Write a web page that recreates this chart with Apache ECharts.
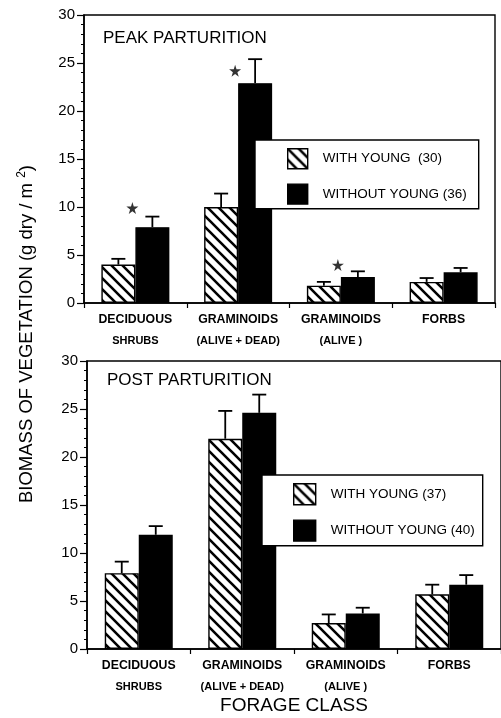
<!DOCTYPE html>
<html>
<head>
<meta charset="utf-8">
<script src="https://cdn.jsdelivr.net/npm/echarts@6/dist/echarts.min.js"></script>
<style>html,body{margin:0;padding:0;background:#fff}#c{width:501px;height:718px}</style>
</head>
<body>
<div id="c"></div>
<script>
// ---- data ----
const catLine1 = ['DECIDUOUS', 'GRAMINOIDS', 'GRAMINOIDS', 'FORBS'];
const catLine2 = ['SHRUBS', '(ALIVE + DEAD)', '(ALIVE )', ''];
const yTicks = [0, 5, 10, 15, 20, 25, 30];

const peakWithName = 'WITH YOUNG  (30)';
const peakWithoutName = 'WITHOUT YOUNG (36)';
const peakWith = [4.0, 10.0, 1.8, 2.2];
const peakWithSE = [0.6, 1.4, 0.4, 0.4];
const peakWithout = [7.9, 22.9, 2.7, 3.2];
const peakWithoutSE = [1.1, 2.5, 0.6, 0.45];
const peakStars = [9.9, 24.2, 3.95, null];

const postWithName = 'WITH YOUNG (37)';
const postWithoutName = 'WITHOUT YOUNG (40)';
const postWith = [7.9, 21.9, 2.7, 5.7];
const postWithSE = [1.2, 2.9, 0.9, 1.0];
const postWithout = [11.9, 24.6, 3.7, 6.7];
const postWithoutSE = [0.9, 1.9, 0.6, 1.0];

// ---- style helpers ----
function hatch() {
  const s = 11, c = document.createElement('canvas');
  c.width = s; c.height = s;
  const g = c.getContext('2d');
  g.fillStyle = '#fff'; g.fillRect(0, 0, s, s);
  g.strokeStyle = '#000'; g.lineWidth = 2.6;
  g.beginPath();
  g.moveTo(-2, -2); g.lineTo(s + 2, s + 2);
  g.moveTo(-2, s - 2); g.lineTo(2, s + 2);
  g.moveTo(s - 2, -2); g.lineTo(s + 2, 2);
  g.stroke();
  return { image: c, repeat: 'repeat' };
}
const HATCH = hatch();
const BAR_W = 34;
const SANS = '"Liberation Sans", Arial, Helvetica, sans-serif';
const STAR = 'path://M50,0 L61,35 L98,35 L68,57 L79,91 L50,70 L21,91 L32,57 L2,35 L39,35 Z';

function errSeries(gi, vals, se, off) {
  return {
    type: 'custom', xAxisIndex: gi, yAxisIndex: gi, z: 5, silent: true,
    data: vals.map((v, i) => [i, v, v + se[i]]),
    renderItem: function (params, api) {
      const b = api.coord([api.value(0), api.value(1)]);
      const t = api.coord([api.value(0), api.value(2)]);
      const x = b[0] + off;
      return {
        type: 'group', children: [
          { type: 'line', shape: { x1: x, y1: b[1], x2: x, y2: t[1] }, style: { stroke: '#000', lineWidth: 1.8 } },
          { type: 'line', shape: { x1: x - 7, y1: t[1], x2: x + 7, y2: t[1] }, style: { stroke: '#000', lineWidth: 1.8 } }
        ]
      };
    }
  };
}

function xAxisOf(gi, bottomGap) {
  return {
    type: 'category', gridIndex: gi, data: catLine1,
    axisLine: { lineStyle: { color: '#000', width: 1.6 } },
    axisTick: { show: true, length: 5, lineStyle: { color: '#000', width: 1.2 } },
    axisLabel: {
      margin: bottomGap, color: '#000', interval: 0,
      formatter: (v, i) => '{a|' + catLine1[i] + '}\n{b|' + catLine2[i] + '}',
      rich: {
        a: { fontFamily: SANS, fontWeight: 'bold', fontSize: 12.3, lineHeight: 21, color: '#000' },
        b: { fontFamily: SANS, fontWeight: 'bold', fontSize: 11, lineHeight: 22, color: '#000' }
      }
    },
    splitLine: { show: false }
  };
}
function yAxisOf(gi) {
  return {
    type: 'value', gridIndex: gi, min: yTicks[0], max: yTicks[yTicks.length - 1], interval: 5,
    axisLine: { show: true, lineStyle: { color: '#000', width: 1.6 } },
    axisTick: { show: true, length: 7, lineStyle: { color: '#000', width: 1.2 } },
    minorTick: { show: true, splitNumber: 5, length: 3, lineStyle: { color: '#000', width: 1 } },
    axisLabel: { color: '#000', fontFamily: SANS, fontSize: 15, margin: 9 },
    splitLine: { show: false }
  };
}
function barSeries(gi, name, vals, hatched) {
  return {
    type: 'bar', name: name, xAxisIndex: gi, yAxisIndex: gi,
    data: vals, barWidth: BAR_W, barGap: '0%',
    itemStyle: { color: hatched ? HATCH : '#000', borderColor: '#000', borderWidth: 1.4 },
    emphasis: { disabled: true }
  };
}
function legendOf(names, left, top, pad, iw, ih) {
  return {
    data: names, left: left, top: top, orient: 'vertical', selectedMode: false,
    icon: 'rect', itemWidth: iw, itemHeight: ih, itemGap: 14, padding: pad,
    borderColor: '#000', borderWidth: 1.4, backgroundColor: '#fff',
    itemStyle: { borderColor: '#000', borderWidth: 1.4 },
    textStyle: { color: '#000', fontFamily: SANS, fontSize: 13.5, padding: [0, 0, 0, 10] }
  };
}

const chart = echarts.init(document.getElementById('c'), null, { renderer: 'canvas' });
chart.setOption({
  animation: false,
  backgroundColor: '#fff',
  grid: [
    { left: 84, top: 15, width: 411, height: 288, show: true, borderColor: '#000', borderWidth: 1.4, backgroundColor: 'transparent' },
    { left: 87, top: 361, width: 418, height: 288, show: true, borderColor: '#000', borderWidth: 1.4, backgroundColor: 'transparent' }
  ],
  title: [
    { text: 'PEAK PARTURITION', left: 103, top: 30, padding: 0, textStyle: { fontFamily: SANS, fontSize: 17, fontWeight: 'normal', color: '#000' } },
    { text: 'POST PARTURITION', left: 107, top: 372, padding: 0, textStyle: { fontFamily: SANS, fontSize: 17, fontWeight: 'normal', color: '#000' } }
  ],
  legend: [
    legendOf([peakWithName, peakWithoutName], 255, 140, [8, 12, 4, 32], 20, 20),
    legendOf([postWithName, postWithoutName], 262, 475, [8, 8, 4, 31], 22, 21)
  ],
  xAxis: [
    xAxisOf(0, 6),
    Object.assign(xAxisOf(1, 6), {
      name: 'FORAGE CLASS', nameLocation: 'middle', nameGap: 47,
      nameTextStyle: { fontFamily: SANS, fontSize: 19, color: '#000' }
    })
  ],
  yAxis: [yAxisOf(0), yAxisOf(1)],
  graphic: [{
    type: 'text', x: 27, y: 334, rotation: Math.PI / 2,
    style: {
      text: '{a|BIOMASS OF VEGETATION (g dry / m }{s|2}{a|)}',
      align: 'center', verticalAlign: 'middle',
      rich: {
        a: { fontFamily: SANS, fontSize: 18.5, fill: '#000' },
        s: { fontFamily: SANS, fontSize: 12, fill: '#000', verticalAlign: 'top', padding: [0, 0, 10, 0] }
      }
    }
  }],
  series: [
    barSeries(0, peakWithName, peakWith, true),
    barSeries(0, peakWithoutName, peakWithout, false),
    errSeries(0, peakWith, peakWithSE, -BAR_W / 2),
    errSeries(0, peakWithout, peakWithoutSE, BAR_W / 2),
    {
      type: 'scatter', xAxisIndex: 0, yAxisIndex: 0, symbol: STAR, symbolSize: 12, symbolOffset: [-3, 0],
      itemStyle: { color: '#000' }, silent: true, z: 6,
      data: peakStars.map((v, i) => v == null ? null : [i, v]).filter(d => d)
    },
    barSeries(1, postWithName, postWith, true),
    barSeries(1, postWithoutName, postWithout, false),
    errSeries(1, postWith, postWithSE, -BAR_W / 2),
    errSeries(1, postWithout, postWithoutSE, BAR_W / 2)
  ]
});
</script>
</body>
</html>
